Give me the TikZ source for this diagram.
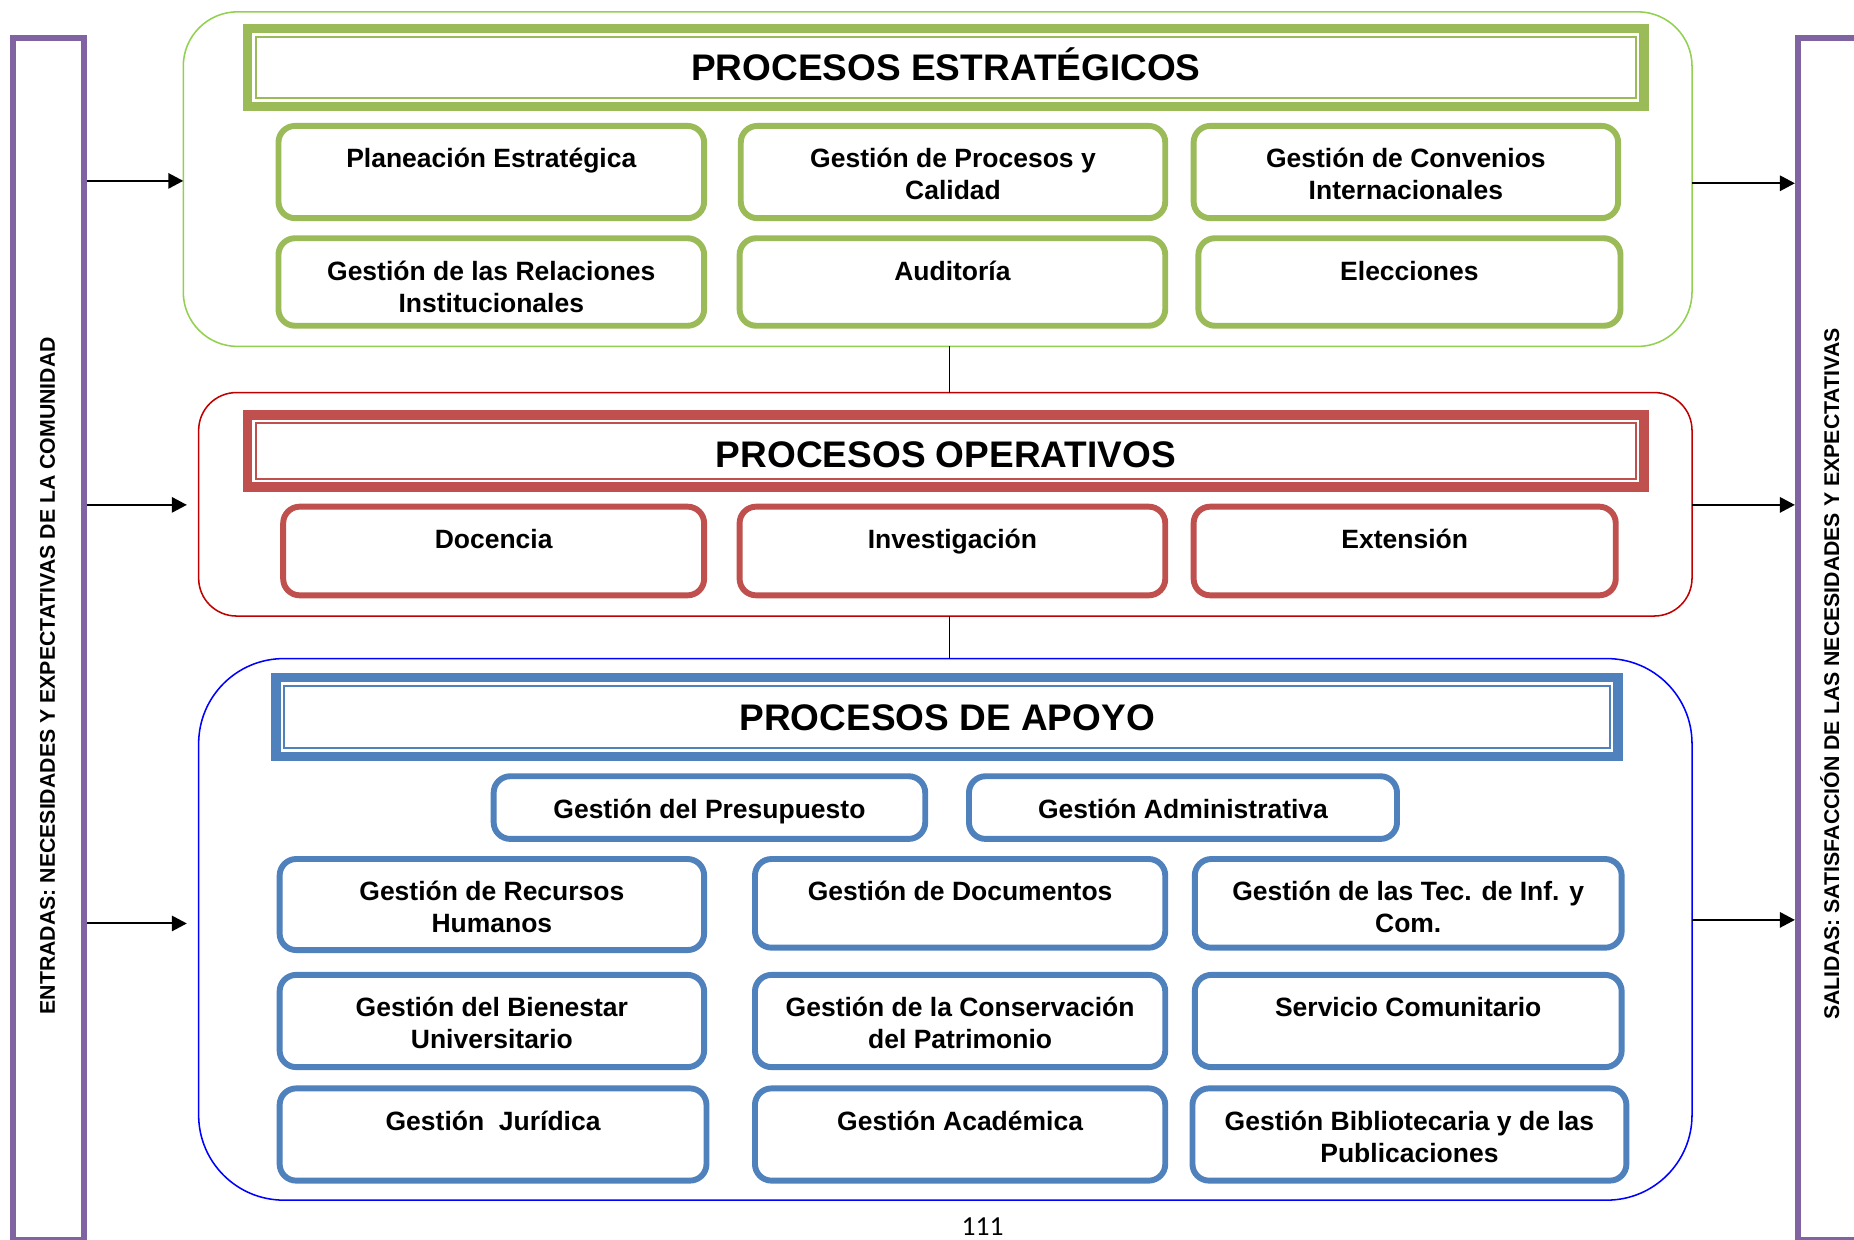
\documentclass[tikz,border=0pt]{standalone}
\usepackage{fontspec}
\setmainfont{Liberation Sans}
\newfontfamily\pagenumfont{Carlito}
\usetikzlibrary{arrows.meta,calc}

\definecolor{stratLine}{HTML}{9BBB59}
\definecolor{stratFrame}{HTML}{92D050}
\definecolor{operLine}{HTML}{C0504D}
\definecolor{operFrame}{HTML}{C00000}
\definecolor{suppLine}{HTML}{4F81BD}
\definecolor{suppFrame}{HTML}{0000FF}
\definecolor{ioLine}{HTML}{8064A2}

% centred lines whose baseline is the first line's baseline
\newcommand\stack[1]{\begin{tabular}[t]{@{}c@{}}#1\end{tabular}}

% process box: name, colour, left, top, right, bottom (outer edges), label
\newcommand\procnode[7]{%
  \node[procbox, draw=#2, minimum width={#5-#3-5}, minimum height={#6-#4-5}]
    (#1) at ({(#3+#5)/2},{(#4+#6)/2}) {};
  \node[proctext] (#1-t) at ($(#1.north)+(0,35.5)$) {\stack{#7}};
}

% double-ruled heading box: name, colour, centre x, centre y, width, height,
% extra options, label
\newcommand\headnode[8]{%
  \node[headbox, draw=#2, minimum width=#5, minimum height=#6, #7] (#1) at (#3,#4) {#8};
  \draw[draw=#2, line width=1.7pt]
    ([shift={(7,7)}]#1.north west) rectangle ([shift={(-7,-7)}]#1.south east);
}

\tikzset{
  procbox/.style={rectangle, rounded corners=14pt, line width=5pt,
    outer sep=0pt, inner sep=0pt, fill=white},
  proctext/.style={anchor=base, inner sep=0pt,
    font=\fontsize{22.4}{27}\selectfont\bfseries},
  headbox/.style={rectangle, line width=8pt, outer sep=0pt, inner sep=0pt,
    fill=white, text height=22.4pt, text depth=0pt,
    font=\fontsize{31.3}{36}\selectfont\bfseries},
  frame/.style={rectangle, line width=1.3pt, outer sep=0pt, inner sep=0pt},
  iobar/.style={rectangle, draw=ioLine, line width=5pt, outer sep=2.5pt,
    inner sep=0pt, minimum width=60, minimum height=1016.5},
  sidetext/.style={rotate=90, inner sep=0pt, text height=12.9pt, text depth=0pt,
    font=\fontsize{18}{21.6}\selectfont\bfseries},
  flow/.style={line width=1.7pt, -{Triangle[length=12.7pt, width=13pt]}},
  link/.style={line width=1.2pt},
}

\begin{document}
\begin{tikzpicture}[x=1pt, y=-1pt]
\useasboundingbox (0,0) rectangle (1568,1048);
\fill[white] (0,0) rectangle (1568,1048);

% inputs and outputs
\node[iobar] (inputs) at (41,540.75) {};
\node[iobar] (outputs) at (1550.5,540.75) {};
\node[sidetext] (inputs-t) at (40,571.5)
  {ENTRADAS: NECESIDADES Y EXPECTATIVAS DE LA COMUNIDAD};
\node[sidetext] (outputs-t) at (1549,570)
  {SALIDAS: SATISFACCIÓN DE LAS NECESIDADES Y EXPECTATIVAS};

% process groups
\node[frame, draw=stratFrame, rounded corners=46pt,
  minimum width=1276, minimum height=283] (strat) at (793,151.5) {};
\node[frame, draw=operFrame, rounded corners=32pt,
  minimum width=1263, minimum height=189] (oper) at (799.5,426.5) {};
\node[frame, draw=suppFrame, rounded corners=72pt,
  minimum width=1263, minimum height=458] (supp) at (799.5,786) {};

% links between groups
\coordinate (tap) at (803,0);
\draw[link] (strat.south -| tap) -- (oper.north -| tap);
\draw[link] (oper.south -| tap) -- (supp.north -| tap);

% input arrows
\coordinate (in1) at (0,153);
\coordinate (in2) at (158,427);
\coordinate (in3) at (158,781);
\draw[flow] (inputs.east |- in1) -- (strat.west |- in1);
\draw[flow] (inputs.east |- in2) -- (in2);
\draw[flow] (inputs.east |- in3) -- (in3);

% output arrows
\coordinate (out1) at (0,155);
\coordinate (out2) at (0,427);
\coordinate (out3) at (0,778);
\draw[flow] (strat.east |- out1) -- (outputs.west |- out1);
\draw[flow] (oper.east |- out2) -- (outputs.west |- out2);
\draw[flow] (supp.east |- out3) -- (outputs.west |- out3);

% strategic processes
\headnode{strat-head}{stratLine}{800}{57}{1181}{66}{}{PROCESOS ESTRATÉGICOS}
\procnode{s1}{stratLine}{233}{104}{598}{187}{Planeación Estratégica}
\procnode{s2}{stratLine}{624}{104}{988}{187}{Gestión de Procesos y\\Calidad}
\procnode{s3}{stratLine}{1007}{104}{1371}{187}{Gestión de Convenios\\Internacionales}
\procnode{s4}{stratLine}{233}{199}{598}{278}{Gestión de las Relaciones\\Institucionales}
\procnode{s5}{stratLine}{623}{199}{988}{278}{Auditoría}
\procnode{s6}{stratLine}{1011}{199}{1373}{278}{Elecciones}

% operative processes
\headnode{oper-head}{operLine}{800}{381.5}{1181}{61}{text height=28.4pt}{PROCESOS OPERATIVOS}
\procnode{o1}{operLine}{237}{426}{598}{506}{Docencia}
\procnode{o2}{operLine}{623}{426}{988}{506}{Investigación}
\procnode{o3}{operLine}{1007}{426}{1369}{506}{Extensión}

% support processes
\headnode{supp-head}{suppLine}{801}{606.5}{1135}{67}{}{PROCESOS DE APOYO}
\procnode{a1}{suppLine}{415}{654}{785}{712}{Gestión del Presupuesto}
\procnode{a2}{suppLine}{817}{654}{1184}{712}{Gestión Administrativa}
\procnode{a3}{suppLine}{234}{724}{598}{806}{Gestión de Recursos\\Humanos}
\procnode{a4}{suppLine}{636}{724}{988}{804}{Gestión de Documentos}
\procnode{a5}{suppLine}{1008}{724}{1374}{804}{Gestión de las Tec. de Inf. y\\Com.}
\procnode{a6}{suppLine}{234}{822}{598}{905}{Gestión del Bienestar\\Universitario}
\procnode{a7}{suppLine}{636}{822}{988}{905}{Gestión de la Conservación\\del Patrimonio}
\procnode{a8}{suppLine}{1008}{822}{1374}{905}{Servicio Comunitario}
\procnode{a9}{suppLine}{234}{918}{600}{1001}{Gestión~~Jurídica}
\procnode{a10}{suppLine}{636}{918}{988}{1001}{Gestión Académica}
\procnode{a11}{suppLine}{1006}{918}{1378}{1001}{Gestión Bibliotecaria y de las\\Publicaciones}

% page number
\node[inner sep=0pt, font=\pagenumfont\fontsize{23.3}{28}\selectfont] (pageno)
  at (831,1037) {111};
\end{tikzpicture}
\end{document}
